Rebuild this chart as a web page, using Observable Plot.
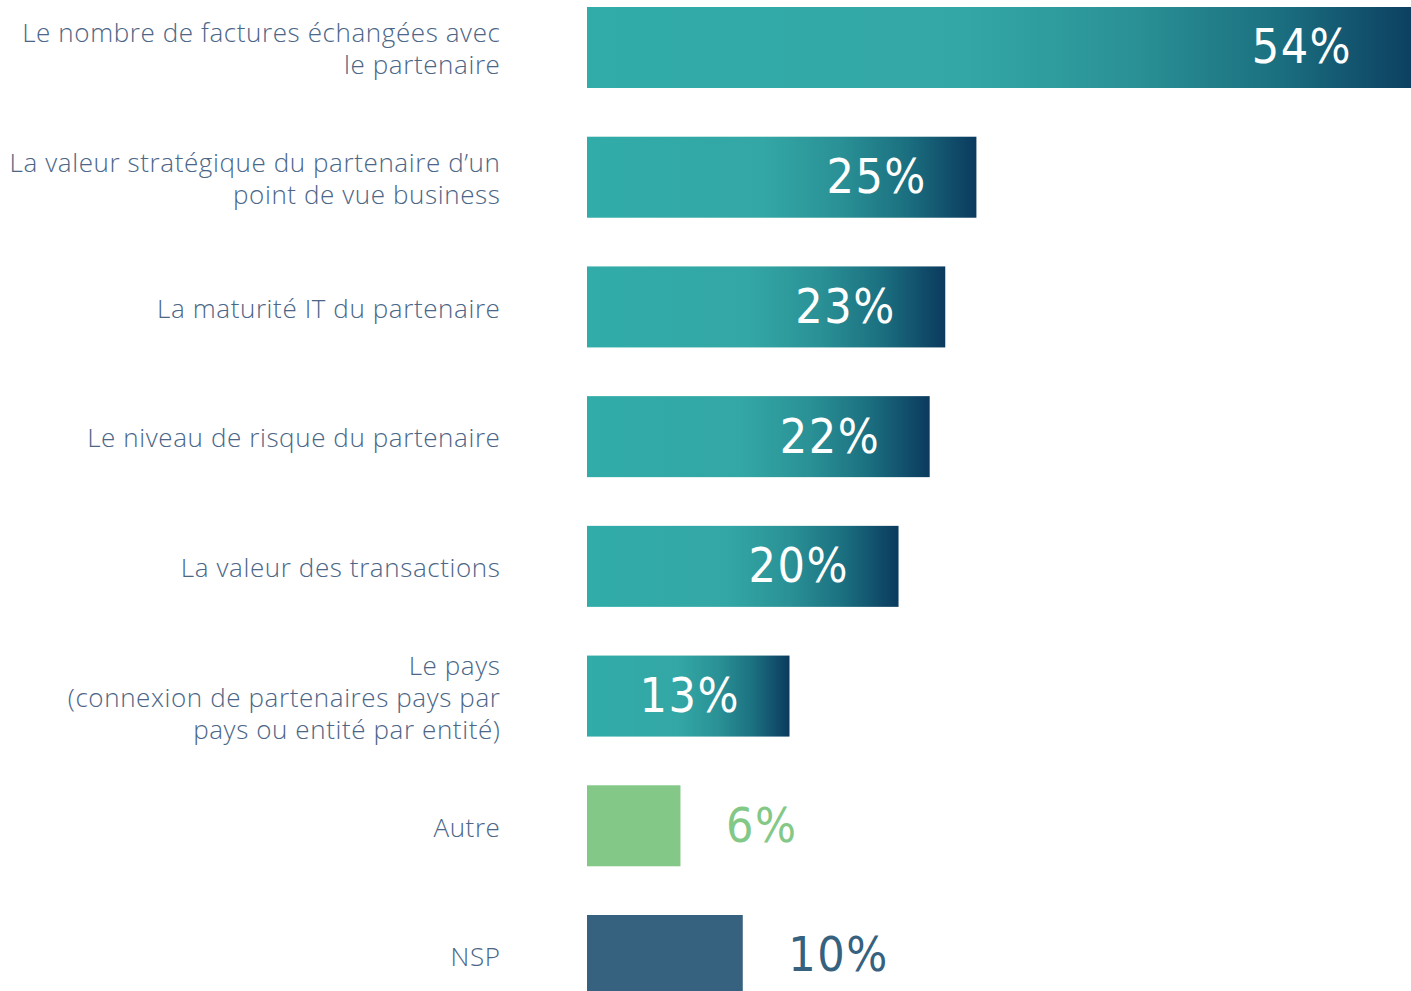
<!DOCTYPE html>
<html>
<head>
<meta charset="utf-8">
<script src="https://cdn.jsdelivr.net/npm/d3@7"></script>
<script src="https://cdn.jsdelivr.net/npm/@observablehq/plot@0.6"></script>
<style>
  html, body { margin: 0; padding: 0; background: #fff; overflow: hidden; }
  .pct text { letter-spacing: 1.5px; }
  .cat text { letter-spacing: 0.6px; }
</style>
</head>
<body>
<div id="chart"></div>
<script>
const categories = [
  "Le nombre de factures échangées avec\nle partenaire",
  "La valeur stratégique du partenaire d’un\npoint de vue business",
  "La maturité IT du partenaire",
  "Le niveau de risque du partenaire",
  "La valeur des transactions",
  "Le pays\n(connexion de partenaires pays par\npays ou entité par entité)",
  "Autre",
  "NSP"
];
const values = [54, 25, 23, 22, 20, 13, 6, 10];
const kinds = ["main", "main", "main", "main", "main", "main", "other", "nsp"];
const valueLabels = ["54%", "25%", "23%", "22%", "20%", "13%", "6%", "10%"];

const data = categories.map((c, i) => ({category: c, value: values[i], kind: kinds[i], label: valueLabels[i]}));

const barFill = {main: "url(#barGrad)", other: "#84c887", nsp: "#36617f"};
const textFill = {main: "#ffffff", other: "#84c887", nsp: "#36617f"};
const xMax = 52.9;
const pctFont = "'DejaVu Sans Condensed', 'Liberation Sans Narrow', sans-serif";

const chart = Plot.plot({
  width: 1411,
  height: 991,
  marginLeft: 587,
  marginRight: 0,
  marginTop: 0,
  marginBottom: 0,
  style: {background: "transparent", overflow: "hidden"},
  x: {domain: [0, xMax], axis: null},
  y: {domain: categories, range: [7, 996], paddingInner: 0.3755, paddingOuter: 0, round: false, axis: null},
  marks: [
    Plot.barX(data, {x: "value", y: "category", fill: d => barFill[d.kind], clip: true}),
    Plot.text(data, {
      x: 0, y: "category", text: "category", textAnchor: "end", dx: -87,
      fontFamily: "'Open Sans', Lato, sans-serif", fontWeight: 300, fontSize: 26,
      lineHeight: 1.23, fill: "#4b6687", className: "cat"
    }),
    Plot.text(data.filter(d => d.kind === "main"), {
      x: d => Math.min(d.value, 52.3), y: "category", text: "label",
      textAnchor: "end", dx: -50, fill: d => textFill[d.kind],
      fontFamily: pctFont, fontSize: 48, className: "pct"
    }),
    Plot.text(data.filter(d => d.kind !== "main"), {
      x: "value", y: "category", text: "label",
      textAnchor: "start", dx: 45, fill: d => textFill[d.kind],
      fontFamily: pctFont, fontSize: 48, className: "pct"
    })
  ]
});

// per-bar gradient definition
const svg = d3.select(chart);
const defs = svg.insert("defs", ":first-child");
const grad = defs.append("linearGradient").attr("id", "barGrad")
  .attr("x1", "0").attr("y1", "0").attr("x2", "1").attr("y2", "0");
[[0, "#31aca9"], [0.45, "#33a7a5"], [0.65, "#2a9196"], [0.82, "#1b7080"], [1, "#0b3a5e"]]
  .forEach(([o, c]) => grad.append("stop").attr("offset", o).attr("stop-color", c));

document.getElementById("chart").appendChild(chart);
</script>
</body>
</html>
